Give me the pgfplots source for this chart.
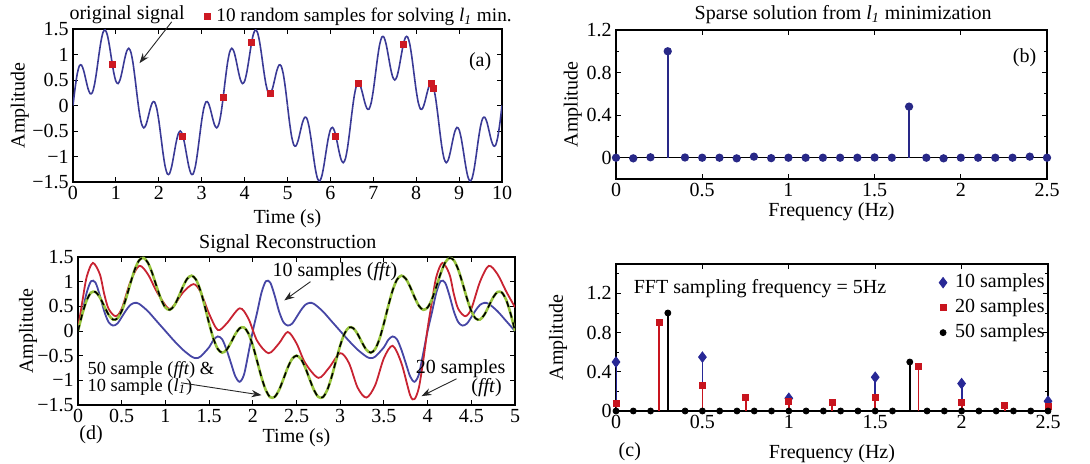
\documentclass[border=0pt]{standalone}
\usepackage{fontspec}
\setmainfont{Liberation Serif}
\usepackage{pgfplots}
\usepackage{pgfplotstable}
\pgfplotsset{compat=1.18}
\usetikzlibrary{arrows.meta}

\definecolor{sigblue}{RGB}{58,58,150}
\definecolor{sampred}{RGB}{205,25,35}
\definecolor{stemblue}{RGB}{40,40,135}
\definecolor{recred}{RGB}{200,35,50}
\definecolor{recblue}{RGB}{70,70,165}
\definecolor{recgreen}{RGB}{150,195,60}
\definecolor{fftblue}{RGB}{40,40,150}
\definecolor{fftred}{RGB}{200,20,30}

% original signal, 0..5 s
\pgfplotstableread[row sep=\\]{
t x\\
0 0\\ 0.05 0.3486\\ 0.1 0.6255\\ 0.15 0.7788\\ 0.2 0.7903\\ 0.25 0.6810\\ 0.3 0.5044\\ 0.35 0.3318\\ 0.4 0.2321\\ 0.45 0.2523\\
0.5 0.4045\\ 0.55 0.6621\\ 0.6 0.9675\\ 0.65 1.2474\\ 0.7 1.4335\\ 0.75 1.4815\\ 0.8 1.3833\\ 0.85 1.1689\\ 0.9 0.8984\\ 0.95 0.6452\\
1 0.4756\\ 1.05 0.4298\\ 1.1 0.5118\\ 1.15 0.6876\\ 1.2 0.8949\\ 1.25 1.0607\\ 1.3 1.1217\\ 1.35 1.0423\\ 1.4 0.8241\\ 1.45 0.5062\\
1.5 0.1545\\ 1.55 -0.1570\\ 1.6 -0.3659\\ 1.65 -0.4391\\ 1.7 -0.3815\\ 1.75 -0.2346\\ 1.8 -0.0646\\ 1.85 0.0564\\ 1.9 0.0703\\ 1.95 -0.0501\\
2 -0.2939\\ 2.05 -0.6142\\ 2.1 -0.9419\\ 2.15 -1.2038\\ 2.2 -1.3433\\ 2.25 -1.3365\\ 2.3 -1.1977\\ 2.35 -0.9760\\ 2.4 -0.7414\\ 2.45 -0.5652\\
2.5 -0.5\\ 2.55 -0.5652\\ 2.6 -0.7414\\ 2.65 -0.9760\\ 2.7 -1.1977\\ 2.75 -1.3365\\ 2.8 -1.3433\\ 2.85 -1.2038\\ 2.9 -0.9419\\ 2.95 -0.6142\\
3 -0.2939\\ 3.05 -0.0501\\ 3.1 0.0703\\ 3.15 0.0564\\ 3.2 -0.0646\\ 3.25 -0.2346\\ 3.3 -0.3815\\ 3.35 -0.4391\\ 3.4 -0.3659\\ 3.45 -0.1570\\
3.5 0.1545\\ 3.55 0.5062\\ 3.6 0.8241\\ 3.65 1.0423\\ 3.7 1.1217\\ 3.75 1.0607\\ 3.8 0.8949\\ 3.85 0.6876\\ 3.9 0.5118\\ 3.95 0.4298\\
4 0.4756\\ 4.05 0.6452\\ 4.1 0.8984\\ 4.15 1.1689\\ 4.2 1.3833\\ 4.25 1.4815\\ 4.3 1.4335\\ 4.35 1.2474\\ 4.4 0.9675\\ 4.45 0.6621\\
4.5 0.4045\\ 4.55 0.2523\\ 4.6 0.2321\\ 4.65 0.3318\\ 4.7 0.5044\\ 4.75 0.6810\\ 4.8 0.7903\\ 4.85 0.7788\\ 4.9 0.6255\\ 4.95 0.3486\\
5 0\\
}\sigA

% original signal, 5..10 s
\pgfplotstableread[row sep=\\]{
t x\\
5 0\\ 5.05 -0.3486\\ 5.1 -0.6255\\ 5.15 -0.7788\\ 5.2 -0.7903\\ 5.25 -0.6810\\ 5.3 -0.5044\\ 5.35 -0.3318\\ 5.4 -0.2321\\ 5.45 -0.2523\\
5.5 -0.4045\\ 5.55 -0.6621\\ 5.6 -0.9675\\ 5.65 -1.2474\\ 5.7 -1.4335\\ 5.75 -1.4815\\ 5.8 -1.3833\\ 5.85 -1.1689\\ 5.9 -0.8984\\ 5.95 -0.6452\\
6 -0.4756\\ 6.05 -0.4298\\ 6.1 -0.5118\\ 6.15 -0.6876\\ 6.2 -0.8949\\ 6.25 -1.0607\\ 6.3 -1.1217\\ 6.35 -1.0423\\ 6.4 -0.8241\\ 6.45 -0.5062\\
6.5 -0.1545\\ 6.55 0.1570\\ 6.6 0.3659\\ 6.65 0.4391\\ 6.7 0.3815\\ 6.75 0.2346\\ 6.8 0.0646\\ 6.85 -0.0564\\ 6.9 -0.0703\\ 6.95 0.0501\\
7 0.2939\\ 7.05 0.6142\\ 7.1 0.9419\\ 7.15 1.2038\\ 7.2 1.3433\\ 7.25 1.3365\\ 7.3 1.1977\\ 7.35 0.9760\\ 7.4 0.7414\\ 7.45 0.5652\\
7.5 0.5\\ 7.55 0.5652\\ 7.6 0.7414\\ 7.65 0.9760\\ 7.7 1.1977\\ 7.75 1.3365\\ 7.8 1.3433\\ 7.85 1.2038\\ 7.9 0.9419\\ 7.95 0.6142\\
8 0.2939\\ 8.05 0.0501\\ 8.1 -0.0703\\ 8.15 -0.0564\\ 8.2 0.0646\\ 8.25 0.2346\\ 8.3 0.3815\\ 8.35 0.4391\\ 8.4 0.3659\\ 8.45 0.1570\\
8.5 -0.1545\\ 8.55 -0.5062\\ 8.6 -0.8241\\ 8.65 -1.0423\\ 8.7 -1.1217\\ 8.75 -1.0607\\ 8.8 -0.8949\\ 8.85 -0.6876\\ 8.9 -0.5118\\ 8.95 -0.4298\\
9 -0.4756\\ 9.05 -0.6452\\ 9.1 -0.8984\\ 9.15 -1.1689\\ 9.2 -1.3833\\ 9.25 -1.4815\\ 9.3 -1.4335\\ 9.35 -1.2474\\ 9.4 -0.9675\\ 9.45 -0.6621\\
9.5 -0.4045\\ 9.55 -0.2523\\ 9.6 -0.2321\\ 9.65 -0.3318\\ 9.7 -0.5044\\ 9.75 -0.6810\\ 9.8 -0.7903\\ 9.85 -0.7788\\ 9.9 -0.6255\\ 9.95 -0.3486\\
10 0\\
}\sigB

% 10-sample fft reconstruction
\pgfplotstableread[row sep=\\]{
t x\\
0 0\\ 0.05 0.38\\ 0.1 0.78\\ 0.15 1.01\\ 0.2 0.98\\ 0.25 0.72\\ 0.3 0.40\\ 0.35 0.18\\ 0.4 0.11\\ 0.45 0.15\\ 0.5 0.28\\ 0.55 0.42\\ 0.6 0.53\\ 0.65 0.57\\ 0.7 0.55\\
0.8 0.40\\ 0.9 0.20\\ 1 0\\ 1.1 -0.20\\ 1.2 -0.38\\ 1.3 -0.52\\ 1.35 -0.55\\ 1.4 -0.52\\ 1.5 -0.33\\ 1.55 -0.18\\ 1.6 -0.11\\ 1.65 -0.17\\ 1.7 -0.38\\ 1.75 -0.65\\ 1.8 -0.92\\ 1.85 -1.03\\ 1.9 -0.88\\ 1.95 -0.45\\
2 0\\ 2.05 0.38\\ 2.1 0.78\\ 2.15 1.01\\ 2.2 0.98\\ 2.25 0.72\\ 2.3 0.40\\ 2.35 0.18\\ 2.4 0.11\\ 2.45 0.15\\ 2.5 0.28\\ 2.55 0.42\\ 2.6 0.53\\ 2.65 0.57\\ 2.7 0.55\\
2.8 0.40\\ 2.9 0.20\\ 3 0\\ 3.1 -0.20\\ 3.2 -0.38\\ 3.3 -0.52\\ 3.35 -0.55\\ 3.4 -0.52\\ 3.5 -0.33\\ 3.55 -0.18\\ 3.6 -0.11\\ 3.65 -0.17\\ 3.7 -0.38\\ 3.75 -0.65\\ 3.8 -0.92\\ 3.85 -1.03\\ 3.9 -0.88\\ 3.95 -0.45\\
4 0\\ 4.05 0.38\\ 4.1 0.78\\ 4.15 1.01\\ 4.2 0.98\\ 4.25 0.72\\ 4.3 0.40\\ 4.35 0.18\\ 4.4 0.11\\ 4.45 0.15\\ 4.5 0.28\\ 4.55 0.42\\ 4.6 0.53\\ 4.65 0.57\\ 4.7 0.55\\
4.8 0.40\\ 4.9 0.20\\ 5 0\\
}\recTen

% 20-sample fft reconstruction
\pgfplotstableread[row sep=\\]{
t x\\
0 0.05\\ 0.05 0.6\\ 0.1 1.1\\ 0.17 1.38\\ 0.25 1.15\\ 0.3 0.75\\ 0.35 0.45\\ 0.43 0.30\\ 0.5 0.45\\ 0.6 1.0\\ 0.7 1.32\\ 0.8 1.15\\ 0.9 0.8\\ 1.03 0.46\\
1.1 0.52\\ 1.2 0.78\\ 1.32 0.95\\ 1.4 0.80\\ 1.5 0.35\\ 1.6 0.02\\ 1.7 0.15\\ 1.85 0.46\\ 1.95 0.25\\ 2.05 -0.2\\ 2.18 -0.45\\ 2.3 -0.25\\ 2.4 -0.02\\
2.5 -0.25\\ 2.6 -0.65\\ 2.75 -0.95\\ 2.87 -0.75\\ 3 -0.45\\ 3.1 -0.65\\ 3.2 -1.15\\ 3.3 -1.35\\ 3.4 -1.1\\ 3.5 -0.55\\ 3.6 -0.30\\ 3.7 -0.65\\ 3.8 -1.3\\ 3.85 -1.38\\ 3.9 -1.15\\ 3.95 -0.6\\
4 0.05\\ 4.05 0.6\\ 4.1 1.1\\ 4.17 1.38\\ 4.25 1.15\\ 4.3 0.75\\ 4.35 0.45\\ 4.43 0.30\\ 4.5 0.45\\ 4.6 1.0\\ 4.7 1.32\\ 4.8 1.15\\ 4.9 0.8\\ 5 0.48\\
}\recTwenty

\pgfplotsset{
  mat/.style={
    scale only axis, anchor=south west, clip mode=individual,
    tick align=inside, major tick length=2.6pt, minor tick length=1.6pt,
    every tick/.style={black, line width=0.45pt},
    axis line style={line width=0.55pt},
    tick label style={font=\fontsize{10}{12}\selectfont},
    label style={font=\fontsize{10}{12}\selectfont},
    /pgf/number format/assume math mode=true,
    xticklabel style={inner sep=1pt, yshift=-1pt},
    yticklabel style={inner sep=2pt},
    xlabel style={anchor=center}, ylabel style={anchor=center},
  },
  markleg/.style={legend image code/.code={\path[draw=none, fill=none] (0cm,-1pt) rectangle (0.2cm,1pt);
    \draw[mark repeat=2,mark phase=2,##1] plot coordinates {(0cm,0cm) (0.1cm,0cm) (0.2cm,0cm)};}},
  markhleg/.style={legend image code/.code={\path[draw=none, fill=none] (0cm,-1pt) rectangle (0.32cm,1pt);
    \draw[mark repeat=2,mark phase=2,##1] plot coordinates {(0cm,0cm) (0.16cm,0cm) (0.32cm,0cm)};}},
}
\tikzset{arr/.style={-{Stealth[length=5pt,width=3.6pt]}, line width=0.45pt, black!85}}

\begin{document}
\begin{tikzpicture}[font=\fontsize{10}{12}\selectfont]
\useasboundingbox (0,0) rectangle (545pt,232pt);

% (a) original signal
\begin{axis}[mat, at={(36.5pt,141pt)}, width=214.5pt, height=76.5pt,
  xmin=0, xmax=10, ymin=-1.5, ymax=1.5,
  xtick={0,1,2,3,4,5,6,7,8,9,10},
  ytick={-1.5,-1,-0.5,0,0.5,1,1.5},
  yticklabels={−1.5,−1,−0.5,0,0.5,1,1.5},
  xlabel={Time (s)}, ylabel={Amplitude},
  xlabel style={at={(axis description cs:0.5,-0.24)}},
  ylabel style={at={(axis description cs:-0.124,0.5)}},
  legend style={draw=none, fill=none, at={(axis description cs:0.30,1.085)}, anchor=west, inner sep=0pt,
    nodes={inner xsep=1.5pt}, font=\fontsize{9.6}{11}\selectfont},
  legend cell align=left]
\addplot[sigblue, line width=0.8pt, smooth, forget plot] table[x=t, y=x] {\sigA};
\addplot[sigblue, line width=0.8pt, smooth, forget plot] table[x=t, y=x] {\sigB};
\addplot[only marks, mark=square*, mark size=1.5pt, color=sampred, markleg]
  coordinates {(0.92,0.80) (2.56,-0.60) (3.5,0.155) (4.17,1.24) (4.6,0.232) (6.12,-0.60) (6.65,0.439) (7.7,1.198) (8.35,0.439) (8.41,0.33)};
\addlegendentry{10 random samples for solving \textit{l\textsubscript{1}} min.}
\node at (axis cs:1.26,1.775) {original signal};
\draw[arr] (axis cs:2.3,1.64) -- (axis cs:1.55,0.83);
\node at (axis cs:9.49,0.85) {(a)};
\end{axis}

% (b) sparse solution
\begin{axis}[mat, at={(308pt,142.5pt)}, width=215.5pt, height=74.5pt,
  xmin=0, xmax=2.5, ymin=-0.2, ymax=1.2,
  xtick={0,0.5,1,1.5,2,2.5},
  ytick={0,0.4,0.8,1.2}, minor ytick={-0.2,0.2,0.6,1.0},
  xlabel={Frequency (Hz)}, ylabel={Amplitude},
  xlabel style={at={(axis description cs:0.5,-0.22)}},
  ylabel style={at={(axis description cs:-0.10,0.5)}}]
\addplot[black, line width=0.6pt, forget plot] coordinates {(0,0) (2.5,0)};
\addplot[ycomb, color=stemblue, line width=0.9pt, mark=*, mark size=1.6pt, mark options={fill=stemblue}]
  coordinates {(0,0) (0.1,-0.006) (0.2,0.004) (0.3,1.0) (0.4,0.002) (0.5,0) (0.6,0) (0.7,-0.006) (0.8,0.01) (0.9,-0.004) (1,0) (1.1,0) (1.2,0) (1.3,0) (1.4,0) (1.5,0.002) (1.6,0) (1.7,0.48) (1.8,0) (1.9,-0.006) (2,0) (2.1,0) (2.2,0) (2.3,0) (2.4,0.01) (2.5,0)};
\node at (axis cs:2.37,0.94) {(b)};
\node at (axis description cs:0.527,1.10) {Sparse solution from \textit{l\textsubscript{1}} minimization};
\end{axis}

% (d) signal reconstruction
\begin{axis}[mat, at={(39pt,29.5pt)}, width=218.5pt, height=74pt,
  xmin=0, xmax=5, ymin=-1.5, ymax=1.5,
  xtick={0,0.5,1,1.5,2,2.5,3,3.5,4,4.5,5},
  ytick={-1.5,-1,-0.5,0,0.5,1,1.5},
  yticklabels={−1.5,−1,−0.5,0,0.5,1,1.5},
  xlabel={Time (s)}, ylabel={Amplitude},
  xlabel style={at={(axis description cs:0.5,-0.22)}},
  ylabel style={at={(axis description cs:-0.114,0.5)}}]
\addplot[recblue, line width=0.9pt, smooth] table[x=t, y=x] {\recTen};
\addplot[recred, line width=0.9pt, smooth] table[x=t, y=x] {\recTwenty};
\addplot[recgreen, line width=1.3pt, smooth] table[x=t, y=x] {\sigA};
\addplot[black, line width=0.8pt, smooth, dash pattern=on 3pt off 2.5pt] table[x=t, y=x] {\sigA};
\node at (axis description cs:0.48,1.088) {Signal Reconstruction};
\node at (axis cs:2.94,1.2) {10 samples (\textit{fft})};
\draw[arr] (axis cs:2.66,1.0) -- (axis cs:2.36,0.62);
\node[anchor=west, font=\fontsize{9.2}{11}\selectfont] at (axis cs:0.03,-0.79) {50 sample (\textit{fft}) \&};
\node[anchor=west, font=\fontsize{9.2}{11}\selectfont] at (axis cs:0.03,-1.14) {10 sample (\textit{l\textsubscript{1}})};
\draw[arr] (axis cs:1.18,-1.05) -- (axis cs:2.1,-1.3);
\node[anchor=east] at (axis cs:4.97,-0.76) {20 samples};
\node[anchor=east] at (axis cs:4.93,-1.14) {(\textit{fft})};
\draw[arr] (axis cs:4.33,-0.97) -- (axis cs:3.93,-1.32);
\node at (axis description cs:0.03,-0.2) {(d)};
\end{axis}

% (c) fft spectra
\begin{axis}[mat, at={(308pt,26.5pt)}, width=216pt, height=73.5pt,
  xmin=0, xmax=2.5, ymin=0, ymax=1.5,
  xtick={0,0.5,1,1.5,2,2.5},
  ytick={0,0.4,0.8,1.2}, minor ytick={0.2,0.6,1.0,1.4},
  xlabel={Frequency (Hz)}, ylabel={Amplitude},
  xlabel style={at={(axis description cs:0.5,-0.29)}},
  ylabel style={at={(axis description cs:-0.134,0.5)}},
  legend style={draw=none, fill=none, at={(axis description cs:1.0,0.703)}, anchor=east, inner sep=0pt, row sep=2.5pt,
    nodes={inner xsep=1.5pt, inner ysep=0.5pt, text height=7pt, text depth=2pt}, font=\fontsize{10}{12}\selectfont},
  legend cell align=left]
\addplot[black, line width=0.6pt, forget plot] coordinates {(0,0) (2.5,0)};
\addplot[ycomb, color=fftblue, line width=0.9pt, forget plot]
  coordinates {(0,0.50) (0.5,0.55) (1,0.13) (1.5,0.345) (2,0.28) (2.5,0.10)};
\addplot[ycomb, color=fftred, line width=0.9pt, forget plot]
  coordinates {(0,0.08) (0.25,0.90) (0.5,0.26) (0.75,0.135) (1,0.096) (1.25,0.09) (1.5,0.135) (1.75,0.46) (2,0.086) (2.25,0.058) (2.5,0.05)};
\addplot[ycomb, black, line width=0.9pt, forget plot]
  coordinates {(0.3,1.0) (1.7,0.5)};
\addplot[only marks, mark=diamond*, mark size=2.6pt, color=fftblue, markhleg]
  coordinates {(0,0.50) (0.5,0.55) (1,0.13) (1.5,0.345) (2,0.28) (2.5,0.10)};
\addlegendentry{10 samples}
\addplot[only marks, mark=square*, mark size=1.5pt, color=fftred, markhleg]
  coordinates {(0,0.08) (0.25,0.90) (0.5,0.26) (0.75,0.135) (1,0.096) (1.25,0.09) (1.5,0.135) (1.75,0.46) (2,0.086) (2.25,0.058) (2.5,0.05)};
\addlegendentry{20 samples}
\addplot[only marks, mark=*, mark size=1.5pt, color=black, markhleg]
  coordinates {(0,0) (0.1,0) (0.2,0) (0.3,1.0) (0.4,0) (0.5,0) (0.6,0) (0.7,0) (0.8,0) (0.9,0) (1,0) (1.1,0) (1.2,0) (1.3,0) (1.4,0) (1.5,0) (1.6,0) (1.7,0.5) (1.8,0) (1.9,0) (2,0) (2.1,0) (2.2,0) (2.3,0) (2.4,0) (2.5,0)};
\addlegendentry{50 samples}
\node[anchor=west] at (axis description cs:0.025,0.833) {FFT sampling frequency = 5Hz};
\node at (axis description cs:0.032,-0.28) {(c)};
\end{axis}
\end{tikzpicture}
\end{document}
